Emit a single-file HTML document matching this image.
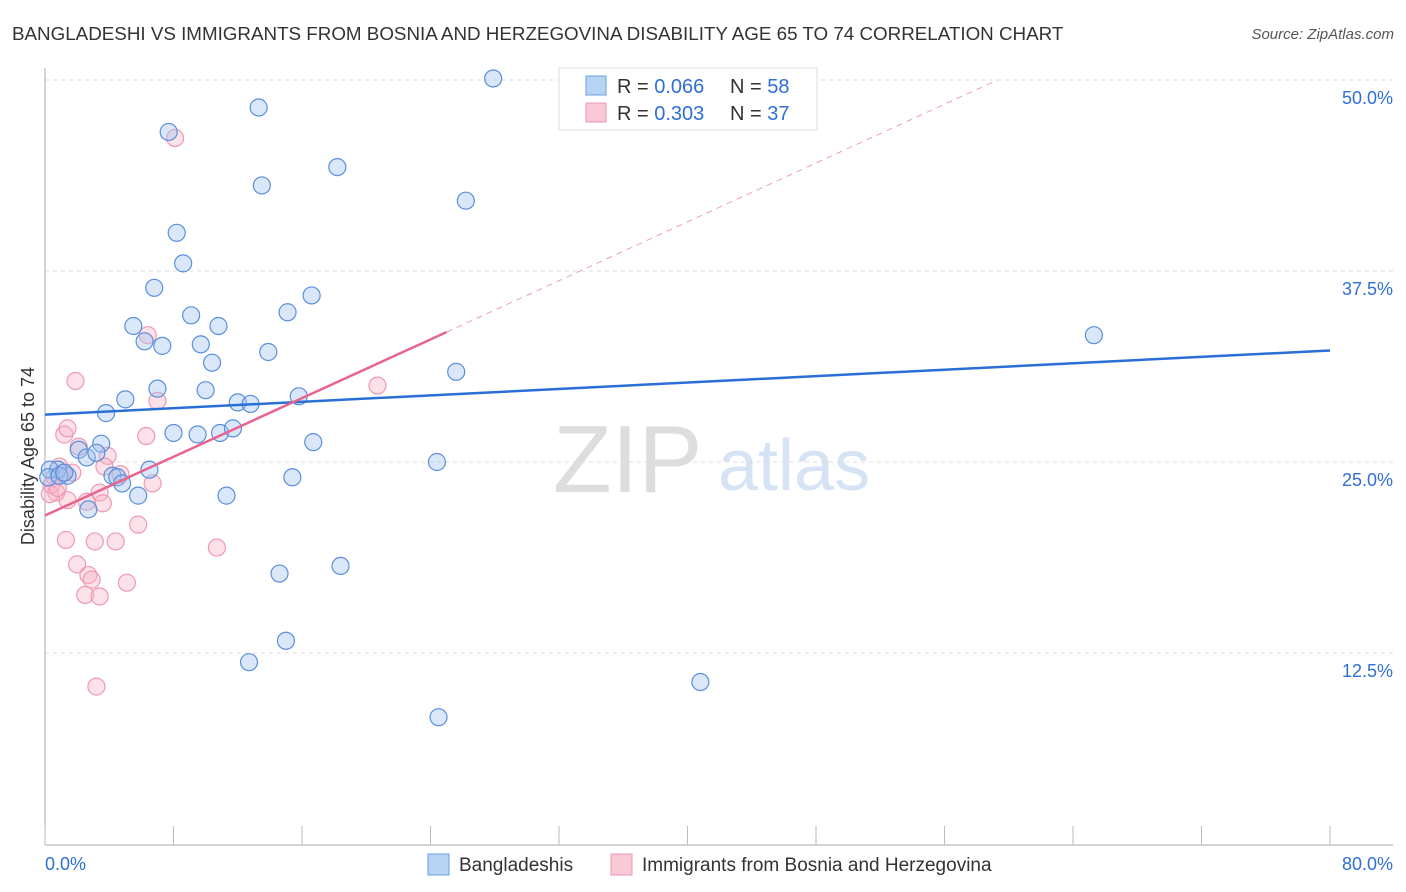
<!DOCTYPE html>
<html><head><meta charset="utf-8">
<style>
body{margin:0;background:#fff;font-family:"Liberation Sans",sans-serif;}
#wrap{position:relative;width:1406px;height:892px;overflow:hidden;}
svg text{font-family:"Liberation Sans",sans-serif;}
</style></head>
<body>
<div id="wrap">
<svg id="chart" width="1406" height="892">
<text x="12" y="40" font-size="18.8" fill="#333">BANGLADESHI VS IMMIGRANTS FROM BOSNIA AND HERZEGOVINA DISABILITY AGE 65 TO 74 CORRELATION CHART</text>
<text x="1394" y="39" font-size="15" fill="#555" font-style="italic" text-anchor="end">Source: ZipAtlas.com</text>
<text x="553" y="492" font-size="96" fill="#ddd" font-family="Liberation Serif">ZIP</text>
<text x="718" y="490" font-size="72" fill="#d6e3f5">atlas</text>
<text transform="translate(34,456) rotate(-90)" font-size="18" fill="#333" text-anchor="middle">Disability Age 65 to 74</text>
<g id="grid"></g><g id="axes"></g><g id="pinkPts"></g><g id="bluePts"></g><g id="lines"></g>
<g>
<rect x="559" y="68" width="258" height="62" fill="#fff" stroke="#ddd"/>
<rect x="586" y="76" width="20" height="19" fill="#b8d4f5" stroke="#6a9fe0"/>
<rect x="586" y="103" width="20" height="19" fill="#fbc8d6" stroke="#e99ab0"/>
<text x="617" y="93" font-size="20" fill="#333">R = <tspan fill="#2f6fd6">0.066</tspan></text>
<text x="730" y="93" font-size="20" fill="#333">N = <tspan fill="#2f6fd6">58</tspan></text>
<text x="617" y="120" font-size="20" fill="#333">R = <tspan fill="#2f6fd6">0.303</tspan></text>
<text x="730" y="120" font-size="20" fill="#333">N = <tspan fill="#2f6fd6">37</tspan></text>
</g>
<g>
<rect x="428" y="854" width="21" height="21" fill="#b8d4f5" stroke="#6a9fe0"/>
<text x="459" y="871" font-size="19" fill="#333">Bangladeshis</text>
<text x="642" y="871" font-size="19" fill="#333">Immigrants from Bosnia and Herzegovina</text>
<rect x="611" y="854" width="21" height="21" fill="#fbc8d6" stroke="#e99ab0"/>
</g>
</svg>
</div>
<script>
const yTicks=[12.5,25,37.5,50];
const yTickLabels=["12.5%","25.0%","37.5%","50.0%"];
const xTicks=[0,8,16,24,32,40,48,56,64,72,80];
const xTickLabels=["0.0%","80.0%"];
const blueX=[27.9,13.3,7.7,13.5,18.2,26.2,8.2,8.6,6.8,16.6,9.1,15.1,5.5,10.8,6.2,7.3,9.7,13.9,10.4,25.6,7.0,10.0,5.0,12.0,12.8,15.8,3.8,8.0,9.5,10.9,11.7,16.7,3.5,2.1,2.6,3.2,24.4,6.5,4.2,4.5,4.8,15.4,1.4,0.8,0.3,0.2,5.8,11.3,2.7,14.6,18.4,15.0,12.7,40.8,24.5,65.3,0.9,1.2];
const blueY=[50.1,48.2,46.6,43.1,44.3,42.1,40.0,38.0,36.4,35.9,34.6,34.8,33.9,33.9,32.9,32.6,32.7,32.2,31.5,30.9,29.8,29.7,29.1,28.9,28.8,29.3,28.2,26.9,26.8,26.9,27.2,26.3,26.2,25.8,25.3,25.6,25.0,24.5,24.1,24.0,23.6,24.0,24.1,24.5,24.5,24.0,22.8,22.8,21.9,17.7,18.2,13.3,11.9,10.6,8.3,33.3,24.1,24.3];
const pinkX=[8.1,6.4,1.9,20.7,7.0,1.2,1.4,6.3,2.1,3.9,3.7,0.9,1.1,0.6,0.4,0.7,0.3,1.4,3.4,3.6,6.7,2.6,5.8,1.3,3.1,4.4,10.7,2.0,2.7,2.9,5.1,2.5,3.4,3.2,0.8,1.7,4.7];
const pinkY=[46.2,33.3,30.3,30.0,29.0,26.8,27.2,26.7,26.0,25.4,24.7,24.7,24.3,24.0,23.5,23.0,22.9,22.5,23.0,22.3,23.6,22.4,20.9,19.9,19.8,19.8,19.4,18.3,17.6,17.3,17.1,16.3,16.2,10.3,23.3,24.3,24.2];
const blueLine=[[0,28.1],[80,32.3]];
const pinkLine=[[0,21.5],[25,33.5]];
const pinkDash=[[25,33.5],[59.3,50.0]];

const NS="http://www.w3.org/2000/svg";
const X=v=>45+v*(1285/80);
const Y=v=>844-v*(191/12.5);
function mk(tag,attrs,parent){const e=document.createElementNS(NS,tag);for(const k in attrs)e.setAttribute(k,attrs[k]);document.getElementById(parent).appendChild(e);return e;}

yTicks.forEach((t,i)=>{
  const g=mk('line',{x1:45,x2:1393,y1:Y(t),y2:Y(t),stroke:'#ddd','stroke-dasharray':'4,4'},'grid');
  
  
  const tx=mk('text',{x:1393,y:Y(t)+24,'font-size':18,fill:'#2f6fd6','text-anchor':'end'},'grid');
  tx.textContent=yTickLabels[i];
  
  
});
let a=mk('line',{x1:45,x2:45,y1:68,y2:845,stroke:'#aaa'},'axes');


a=mk('line',{x1:45,x2:1393,y1:845,y2:845,stroke:'#aaa'},'axes');


xTicks.forEach(t=>{
  const l=mk('line',{x1:X(t),x2:X(t),y1:826,y2:845,stroke:'#bbb'},'axes');
  
  
});
let t0=mk('text',{x:45,y:870,'font-size':18,fill:'#2f6fd6'},'axes');t0.textContent=xTickLabels[0];


let t1=mk('text',{x:1393,y:870,'font-size':18,fill:'#2f6fd6','text-anchor':'end'},'axes');t1.textContent=xTickLabels[1];



pinkX.forEach((v,i)=>{
  const c=mk('circle',{cx:X(v),cy:Y(pinkY[i]),r:8.5,fill:'rgba(248,180,200,0.4)',stroke:'#ec9ab2','stroke-width':1.2},'pinkPts');
  
  
});
blueX.forEach((v,i)=>{
  const c=mk('circle',{cx:X(v),cy:Y(blueY[i]),r:8.5,fill:'rgba(160,195,240,0.4)',stroke:'#5b8fdc','stroke-width':1.2},'bluePts');
  
  
});
let ln=mk('line',{x1:X(blueLine[0][0]),y1:Y(blueLine[0][1]),x2:X(blueLine[1][0]),y2:Y(blueLine[1][1]),stroke:'#2a6fd6','stroke-width':2.5},'lines');


ln=mk('line',{x1:X(pinkLine[0][0]),y1:Y(pinkLine[0][1]),x2:X(pinkLine[1][0]),y2:Y(pinkLine[1][1]),stroke:'#e8648e','stroke-width':2.5},'lines');


ln=mk('line',{x1:X(pinkDash[0][0]),y1:Y(pinkDash[0][1]),x2:X(pinkDash[1][0]),y2:Y(pinkDash[1][1]),stroke:'#eca0b8','stroke-width':1,'stroke-dasharray':'6,5'},'lines');


</script>
</body></html>
